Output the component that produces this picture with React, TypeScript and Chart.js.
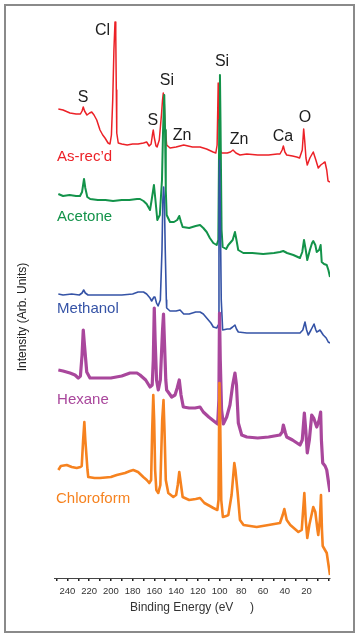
import React, { useEffect, useRef } from "react";
import { Chart, registerables } from "chart.js";

Chart.register(...registerables);

const FONT = '"Liberation Sans", Arial, Helvetica, sans-serif';

// Binding energy (eV) and intensity (arb. units, offset stacked)
const asRecd: [number, number][] = [
  [248.3, 469], [244, 468], [237.6, 465], [232, 464], [228, 464], [226.5, 467], [225.4, 471], [224.2, 467],
  [222, 463], [219.5, 465], [217.6, 466], [215.5, 463], [213, 458], [210, 448], [207.5, 443], [205.4, 440],
  [202.6, 435], [200.8, 434], [199.5, 443], [198.3, 478], [197.2, 528], [196.2, 556], [195.5, 543], [195, 488],
  [194.6, 445], [193.2, 435], [190, 434], [185, 433], [180, 434], [175, 434], [170, 435], [167.1, 436],
  [164.8, 432], [163, 434], [161.8, 443], [161, 448], [160, 440], [158.5, 432], [157.5, 431], [155.5, 438],
  [153.5, 463], [152.5, 478], [151.8, 485], [151, 478], [150.2, 453], [148.7, 433], [145.6, 430], [140, 431],
  [133, 433], [125, 431], [118, 431], [112, 429], [106, 426], [103.5, 425], [102.3, 433], [101.3, 495],
  [100.5, 458], [99.5, 428], [98.2, 425], [93, 425], [90, 426], [87.7, 428], [85, 425], [81.3, 423],
  [75, 424], [65, 423], [55, 423], [47, 424], [44.5, 424], [42.5, 428], [41.4, 432], [40, 426],
  [38.3, 423], [33, 422], [29.1, 421], [26.5, 420], [24, 428], [22.7, 449], [21.8, 438], [20.6, 420],
  [19.4, 413], [17, 420], [13.9, 426], [11.5, 418], [9.3, 410], [7, 413], [4.5, 415], [3.1, 416],
  [1.5, 408], [0.3, 397], [-1.5, 396],
];

const acetone: [number, number][] = [
  [248.3, 384], [244, 382], [238, 383], [232, 382], [228.4, 382], [226.5, 386], [224.7, 399], [223.5, 390],
  [221.7, 381], [219, 379], [212, 378], [205, 378], [198, 377], [190, 378], [183, 378], [176, 379],
  [173.2, 379], [170, 377], [167.1, 374], [164, 368], [162.5, 378], [160.4, 393], [159.2, 380], [157.3, 358],
  [155, 363], [153, 398], [152, 448], [150.9, 483], [150.2, 448], [149.5, 388], [148.7, 363], [145.6, 356],
  [142, 356], [139, 358], [137.1, 362], [135.5, 356], [134, 351], [128, 350], [122, 352], [118, 353],
  [115, 350], [111.9, 346], [109, 340], [105.8, 335], [102.7, 333], [101.2, 338], [100.3, 458], [99.7, 503],
  [99.2, 458], [98.2, 348], [97.2, 331], [94, 329], [92, 333], [88, 338], [85.9, 346], [84.5, 338],
  [82.9, 328], [78.2, 325], [70, 325], [60, 324], [50, 325], [44.5, 326], [41.5, 327], [38, 325],
  [32.2, 323], [26.1, 320], [24, 326], [22.4, 338], [20.8, 328], [19.4, 318], [17, 328], [15, 335],
  [13.9, 337], [12, 333], [10.7, 326], [8.5, 328], [7.1, 333], [6.1, 316], [4, 314], [1.5, 313],
  [0, 308], [-1.5, 301],
];

const methanol: [number, number][] = [
  [248.3, 284], [244, 283], [236, 284], [229, 283], [226.5, 285], [225, 288], [223.5, 285], [221, 283],
  [212, 283], [200, 283], [190, 283], [180, 284], [175, 286], [173.2, 286], [170, 286], [167.1, 284],
  [164, 280], [162.5, 277], [160.4, 281], [159.5, 281], [158, 275], [156.6, 272], [154.5, 278], [153, 328],
  [152.2, 378], [151.5, 391], [150.8, 378], [150, 328], [149, 278], [148.7, 270], [145.6, 267], [140, 267],
  [136.4, 268], [133, 264], [128, 264], [122, 266], [118, 266], [115, 264], [111.9, 260], [108, 255],
  [105.8, 251], [102.7, 250], [101.2, 253], [100.6, 378], [100.1, 418], [99.5, 378], [98.5, 278], [97.2, 248],
  [93, 249], [90.5, 249], [88, 251], [85.9, 253], [84.5, 249], [82.8, 246], [75, 245], [60, 245],
  [45, 245], [30, 245], [26.1, 245], [23.5, 248], [21.5, 256], [20, 248], [18.5, 243], [16, 248],
  [13.2, 254], [11.5, 248], [10.7, 246], [9, 247], [7.7, 248], [4.7, 243], [2, 240], [0.1, 236],
  [-1.5, 235],
];

const hexane: [number, number][] = [
  [248.3, 208], [244, 207], [237.6, 205], [233, 203], [230, 200], [228, 202], [226.5, 223], [225.4, 248],
  [224.3, 233], [222.2, 206], [219.2, 200], [212, 200], [200, 200], [190, 202], [182.4, 205], [176, 205],
  [173.2, 203], [168, 198], [164, 191], [162, 193], [161, 218], [160.1, 270], [159.3, 238], [158, 198],
  [156.4, 188], [154.5, 198], [152.5, 248], [151.6, 264], [150.8, 238], [149.5, 198], [148.7, 188], [146, 184],
  [144.1, 181], [141, 183], [139, 190], [137.1, 198], [135.5, 183], [133.4, 171], [128, 170], [122.6, 170],
  [118, 171], [115, 166], [110, 161], [104.2, 156], [101.8, 154], [100.7, 178], [100.1, 265], [99.4, 218],
  [98.2, 168], [96.6, 154], [93.5, 161], [90.5, 173], [88, 193], [85.9, 205], [84.5, 193], [82.8, 155],
  [79.7, 143], [75, 141], [65, 140], [55, 141], [44.5, 143], [42.5, 146], [41.4, 153], [39.5, 145],
  [38.3, 141], [33, 138], [26.1, 133], [24, 138], [22.1, 165], [20.8, 148], [19.4, 125], [17.5, 138],
  [15.3, 163], [13.5, 160], [10.7, 151], [8.5, 158], [7.1, 166], [6.4, 138], [5.2, 115], [3, 112],
  [1.5, 108], [-0.5, 93], [-1.5, 86],
];

const chloroform: [number, number][] = [
  [248.3, 108], [246, 112], [240.6, 113], [236, 111], [231.4, 110], [228, 111], [226.8, 112], [225.5, 138],
  [224.4, 156], [223.5, 138], [221.5, 108], [220.8, 101], [215, 100], [210, 100], [200, 101], [194.6, 103],
  [187, 105], [182.4, 107], [179.4, 108], [175, 106], [170.2, 101], [167, 98], [164.7, 95], [163, 98],
  [162, 148], [161, 183], [160.2, 158], [159.3, 108], [158.2, 88], [156.4, 85], [154.5, 93], [152.8, 158],
  [151.6, 178], [150.7, 148], [149.5, 98], [147.2, 85], [142.6, 81], [140, 83], [138.5, 93], [137.1, 106],
  [135.5, 93], [134, 81], [128, 78], [122, 79], [118, 80], [114, 75], [109, 72], [105.8, 70],
  [102.1, 68], [101, 78], [100.2, 195], [99.5, 158], [98.5, 78], [97, 61], [94, 62], [92, 63],
  [89, 83], [86.5, 115], [85.5, 108], [83.4, 85], [81.3, 58], [78, 53], [65.9, 51], [55, 53],
  [44.5, 55], [42, 63], [40.5, 69], [38.3, 58], [35, 53], [27.6, 46], [24.5, 48], [22.1, 85],
  [20.8, 58], [19.4, 40], [17.5, 53], [13.9, 71], [12, 66], [10, 48], [9.3, 43], [7.8, 58],
  [6.8, 83], [5.9, 48], [5.2, 32], [3.1, 28], [1.5, 25], [-1.5, 3],
];

const seriesNames = ["As-rec\u2019d", "Acetone", "Methanol", "Hexane", "Chloroform"];
const seriesColors = ["#ec2127", "#13934a", "#3553a6", "#a9479c", "#f6821f"];
const seriesData = [asRecd, acetone, methanol, hexane, chloroform];

const tickValues = [0, 10, 20, 30, 40, 50, 60, 70, 80, 90, 100, 110, 120, 130, 140, 150, 160, 170, 180, 190, 200, 210, 220, 230, 240, 250];
const tickLabels = [20, 40, 60, 80, 100, 120, 140, 160, 180, 200, 220, 240];

// Peak annotations: [text, energy, intensity]
const peakLabels: [string, number, number][] = [
  ["S", 225.6, 480], ["Cl", 207.7, 547], ["S", 161.3, 457], ["Si", 148.5, 497], ["Zn", 134.6, 442],
  ["Si", 97.8, 516], ["Zn", 82.2, 438], ["Ca", 41.7, 441], ["O", 21.5, 460],
];
// Series labels: energy at left edge, intensity at middle
const seriesLabelPos: [number, number][] = [
  [249.5, 421], [249.5, 361], [249.5, 269], [249.5, 178], [250.5, 79],
];

const lineWidths = [1.5, 2.0, 1.6, 3.2, 2.6];

const annotationPlugin = {
  id: "annotations",
  afterDraw(chart: any) {
    const { ctx, scales } = chart;
    const xs = scales.x;
    const ys = scales.y;
    ctx.save();
    ctx.textBaseline = "middle";
    ctx.textAlign = "center";
    ctx.font = `16px ${FONT}`;
    ctx.fillStyle = "#1e1e1e";
    peakLabels.forEach(([t, e, v]) => {
      ctx.fillText(t, xs.getPixelForValue(e), ys.getPixelForValue(v));
    });
    ctx.textAlign = "left";
    ctx.font = `15px ${FONT}`;
    seriesLabelPos.forEach(([e, v], i) => {
      ctx.fillStyle = seriesColors[i];
      ctx.fillText(seriesNames[i], xs.getPixelForValue(e), ys.getPixelForValue(v));
    });
    // y axis title
    ctx.save();
    ctx.translate(23, 317);
    ctx.rotate(-Math.PI / 2);
    ctx.textAlign = "center";
    ctx.font = `12px ${FONT}`;
    ctx.fillStyle = "#222";
    ctx.fillText("Intensity (Arb. Units)", 0, 0);
    ctx.restore();
    // frame
    ctx.strokeStyle = "#8a8a8a";
    ctx.lineWidth = 2;
    ctx.strokeRect(5, 5, 349, 627);
    ctx.restore();
  },
};

export default function App() {
  const canvasRef = useRef<HTMLCanvasElement | null>(null);

  useEffect(() => {
    if (!canvasRef.current) return;
    const order = [5, 4, 3, 2, 1];
    const chart = new Chart(canvasRef.current, {
      type: "line",
      data: {
        datasets: seriesData.map((arr, i) => ({
          label: seriesNames[i],
          data: arr.map(([x, y]) => ({ x, y })),
          borderColor: seriesColors[i],
          backgroundColor: seriesColors[i],
          borderWidth: lineWidths[i],
          borderJoinStyle: "round" as const,
          pointRadius: 0,
          tension: 0,
          fill: false,
          order: order[i],
        })),
      },
      options: {
        animation: false,
        responsive: true,
        maintainAspectRatio: false,
        layout: { padding: { left: 54, right: 30, top: 20, bottom: 0 } },
        plugins: { legend: { display: false }, tooltip: { enabled: false } },
        scales: {
          x: {
            type: "linear",
            reverse: true,
            min: -1.5,
            max: 252.3,
            afterBuildTicks: (s: any) => {
              s.ticks = tickValues.map((v) => ({ value: v }));
            },
            afterFit: (s: any) => {
              s.height = 62;
            },
            grid: {
              display: true,
              drawOnChartArea: false,
              drawTicks: true,
              tickLength: 3,
              color: "#222",
              lineWidth: 1.5,
            },
            border: { display: true, color: "#444", width: 1 },
            ticks: {
              autoSkip: false,
              maxRotation: 0,
              padding: 5,
              color: "#333",
              font: { family: FONT, size: 9.5 },
              callback: (v: any) => (tickLabels.includes(Number(v)) ? String(v) : ""),
            },
            title: {
              display: true,
              text: "Binding Energy (eV     )",
              color: "#333",
              font: { family: FONT, size: 12 },
              padding: { top: 0, bottom: 25 },
            },
          },
          y: { display: false, min: 0, max: 558 },
        },
      },
      plugins: [annotationPlugin],
    });
    return () => chart.destroy();
  }, []);

  return (
    <div style={{ position: "absolute", left: 0, top: 0, width: 360, height: 640, background: "#fff" }}>
      <canvas ref={canvasRef} />
    </div>
  );
}
